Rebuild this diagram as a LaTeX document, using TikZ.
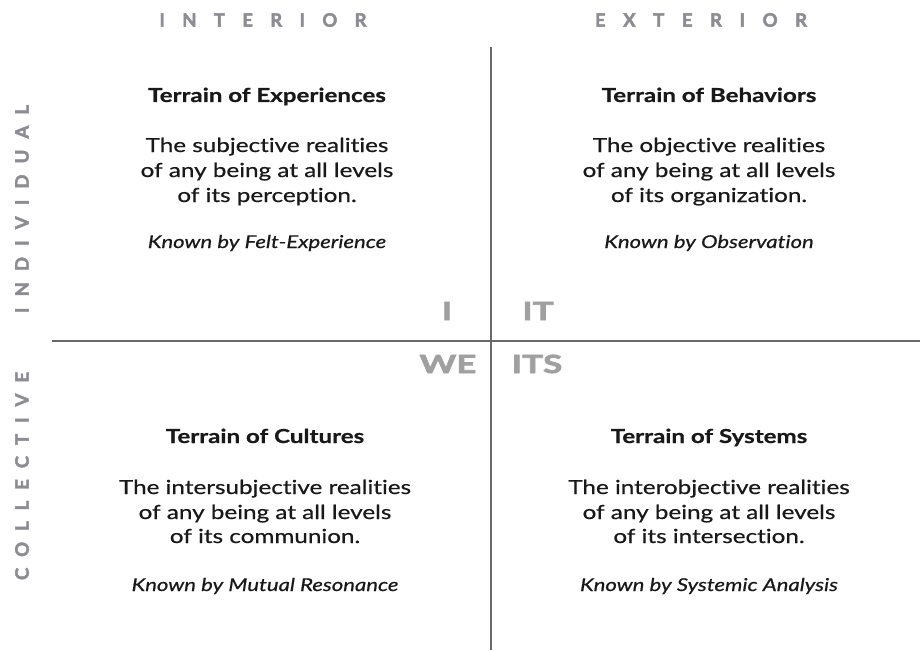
\documentclass[tikz,border=0pt]{standalone}
\usepackage{fontspec}
\setmainfont{Lato}
\newfontfamily\quadfont[FakeStretch=1.25,FakeBold=0.6,Ligatures={NoCommon}]{Lato}
\newfontfamily\sidefont[FakeBold=2.5]{Lato}
\newfontfamily\pronfont[FakeStretch=1.4,FakeBold=3]{Lato}
\definecolor{txt}{RGB}{25,25,25}
\definecolor{lbl}{RGB}{140,140,148}
\definecolor{big}{RGB}{160,160,160}
\definecolor{rule}{RGB}{105,105,105}
\newcommand{\spreadtxt}[2]{\makebox[#1][s]{#2}}
\tikzset{
  title/.style={anchor=base, font=\quadfont\fontsize{19.3}{21}\selectfont\bfseries, text=txt, inner sep=0pt},
  body/.style={anchor=base, font=\quadfont\fontsize{19.4}{21}\selectfont, text=txt, inner sep=0pt},
  known/.style={anchor=base, font=\quadfont\fontsize{17.7}{19}\selectfont\itshape, text=txt, inner sep=0pt},
  side/.style={font=\sidefont\bfseries\fontsize{18.5}{20}\selectfont, text=lbl, inner sep=0pt},
  pron/.style={anchor=base, font=\pronfont\fontsize{25}{28}\selectfont\bfseries, text=big, inner sep=0pt},
  divider/.style={draw=rule, line width=1.4pt}
}
\begin{document}
\begin{tikzpicture}[x=1pt,y=-1pt]
\useasboundingbox (0,0) rectangle (920,650);
\fill[white] (0,0) rectangle (920,650);
% axes
\coordinate (vt) at (491,47);
\coordinate (vb) at (491,650);
\coordinate (hl) at (52,341);
\coordinate (hr) at (920,341);
\draw[divider] (vt) -- (vb);
\draw[divider] (hl) -- (hr);
% headings
\node[side] (interior) at (263,20) {\spreadtxt{207pt}{I\hfill N\hfill T\hfill E\hfill R\hfill I\hfill O\hfill R}};
\node[side] (exterior) at (701,20) {\spreadtxt{212pt}{E\hfill X\hfill T\hfill E\hfill R\hfill I\hfill O\hfill R}};
\node[side, rotate=90] (individual) at (22,209) {\spreadtxt{208pt}{I\hfill N\hfill D\hfill I\hfill V\hfill I\hfill D\hfill U\hfill A\hfill L}};
\node[side, rotate=90] (collective) at (22,476) {\spreadtxt{208pt}{C\hfill O\hfill L\hfill L\hfill E\hfill C\hfill T\hfill I\hfill V\hfill E}};
% pronouns
\node[pron] (i) at (447,320) {I};
\node[pron] (it) at (538,320) {IT};
\node[pron] (we) at (448,373) {WE};
\node[pron] (its) at (537,373) {ITS};
% upper left
\node[title] (t1) at (267,102) {Terrain of Experiences};
\node[body] (b1a) at (267,152) {The subjective realities};
\node[body] (b1b) at (267,177) {of any being at all levels};
\node[body] (b1c) at (267,202) {of its perception.};
\node[known] (k1) at (267,248) {Known by Felt-Experience};
% upper right
\node[title] (t2) at (709,102) {Terrain of Behaviors};
\node[body] (b2a) at (709,152) {The objective realities};
\node[body] (b2b) at (709,177) {of any being at all levels};
\node[body] (b2c) at (709,202) {of its organization.};
\node[known] (k2) at (709,248) {Known by Observation};
% lower left
\node[title] (t3) at (265,443) {Terrain of Cultures};
\node[body] (b3a) at (265,494) {The intersubjective realities};
\node[body] (b3b) at (265,519) {of any being at all levels};
\node[body] (b3c) at (265,543) {of its communion.};
\node[known] (k3) at (265,591) {Known by Mutual Resonance};
% lower right
\node[title] (t4) at (709,443) {Terrain of Systems};
\node[body] (b4a) at (709,494) {The interobjective realities};
\node[body] (b4b) at (709,519) {of any being at all levels};
\node[body] (b4c) at (709,543) {of its intersection.};
\node[known] (k4) at (709,591) {Known by Systemic Analysis};
\end{tikzpicture}
\end{document}
